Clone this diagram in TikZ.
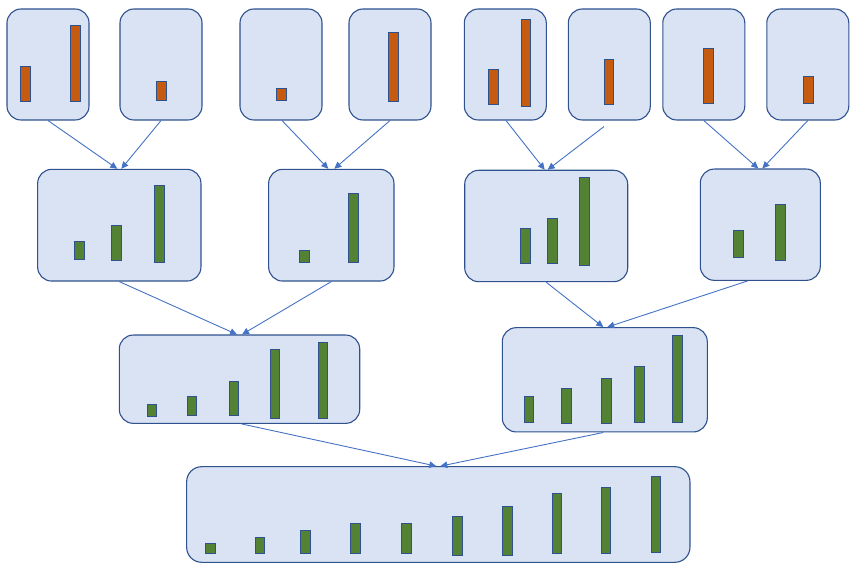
\documentclass[tikz,border=0pt]{standalone}
\usetikzlibrary{arrows.meta}
\definecolor{boxfill}{HTML}{DAE3F3}
\definecolor{boxline}{HTML}{2F528F}
\definecolor{orangebar}{HTML}{C55A11}
\definecolor{greenbar}{HTML}{548235}
\definecolor{arrowblue}{HTML}{4472C4}
\newcommand\orbar[4]{\draw[orbarstyle] (#1,#2) rectangle (#3,#4);}
\newcommand\grbar[4]{\draw[grbarstyle] (#1,#2) rectangle (#3,#4);}
\begin{document}
\begin{tikzpicture}[x=1pt,y=-1pt,
  panel/.style={draw=boxline, fill=boxfill, line width=1.1pt, rounded corners=14pt, inner sep=0pt},
  orbarstyle/.style={draw=boxline, fill=orangebar, line width=0.9pt},
  grbarstyle/.style={draw=boxline, fill=greenbar, line width=0.9pt},
  arr/.style={draw=arrowblue, line width=0.9pt, -{Triangle[length=7pt,width=6.5pt]}}]
\useasboundingbox (0,0) rectangle (855,569);

% top row
\node[panel, minimum width=82pt, minimum height=111pt] (t1) at (48,64.5) {};
\node[panel, minimum width=82pt, minimum height=111pt] (t2) at (161,64.5) {};
\node[panel, minimum width=82pt, minimum height=111pt] (t3) at (281,64.5) {};
\node[panel, minimum width=82pt, minimum height=111pt] (t4) at (390,64.5) {};
\node[panel, minimum width=82pt, minimum height=111pt] (t5) at (505.3,64.5) {};
\node[panel, minimum width=82pt, minimum height=111pt] (t6) at (609.3,64.5) {};
\node[panel, minimum width=82pt, minimum height=111pt] (t7) at (703.8,64.5) {};
\node[panel, minimum width=82pt, minimum height=111pt] (t8) at (807.8,64.5) {};

% second row
\node[panel, minimum width=163.3pt, minimum height=111.7pt] (m1) at (119.3,225.2) {};
\node[panel, minimum width=125.3pt, minimum height=111.7pt] (m2) at (331.3,225.2) {};
\node[panel, minimum width=163pt, minimum height=111.4pt] (m3) at (546.2,226) {};
\node[panel, minimum width=120pt, minimum height=111.3pt] (m4) at (760.3,224.7) {};

% third row
\node[panel, minimum width=240.4pt, minimum height=88.3pt] (l1) at (239.5,379.2) {};
\node[panel, minimum width=205pt, minimum height=104.3pt] (l2) at (604.8,379.8) {};

% bottom
\node[panel, minimum width=503.3pt, minimum height=95.6pt, rounded corners=15pt] (f) at (438.3,514.5) {};

% orange bars
\orbar{20}{66}{30}{101}
\orbar{70}{25}{80}{101}
\orbar{156}{81}{166}{100}
\orbar{276}{88.3}{286}{100.7}
\orbar{388}{32.3}{398}{101}
\orbar{488.3}{69.3}{498}{104.3}
\orbar{521}{19.3}{530.7}{106}
\orbar{604}{59}{613.7}{104.3}
\orbar{703.7}{48.3}{713.7}{103}
\orbar{803.3}{76.7}{813}{103}

% second row green bars
\grbar{74}{241.3}{84}{259.7}
\grbar{111.7}{225.7}{121.7}{260.7}
\grbar{154.3}{185.7}{164.3}{262.3}
\grbar{299.3}{250}{309}{262.3}
\grbar{348.3}{193}{358.3}{262.3}
\grbar{520.7}{228}{530.7}{263.3}
\grbar{547}{218}{557}{263.3}
\grbar{579}{177.7}{589.3}{265.3}
\grbar{733.7}{230.3}{743.7}{257}
\grbar{775}{204.7}{785}{260.3}

% third row green bars
\grbar{147.3}{404}{156.7}{416}
\grbar{187}{396.7}{196.7}{415}
\grbar{229.3}{381.3}{238.7}{415.7}
\grbar{270}{349.3}{279.7}{418.7}
\grbar{318}{342.3}{327.7}{418.7}
\grbar{524.3}{396}{533.7}{422}
\grbar{561.3}{388.7}{571}{423.3}
\grbar{601.7}{378}{611.3}{423}
\grbar{634.3}{366.3}{644}{422}
\grbar{672.7}{335}{682.7}{422.7}

% bottom green bars
\grbar{205}{543.3}{215}{553.7}
\grbar{255}{537.7}{264.7}{553.7}
\grbar{300.7}{530.3}{310.3}{553.7}
\grbar{350.3}{523}{360}{553.7}
\grbar{401.7}{523}{411.3}{553.7}
\grbar{452.7}{516}{462.7}{555.7}
\grbar{502.3}{506.7}{512.3}{555.7}
\grbar{552}{493}{561.7}{553.7}
\grbar{601}{487}{610.7}{553.7}
\grbar{651}{476}{660.7}{552.7}

% connectors
\draw[arr] (t1.south) -- ([xshift=-2pt]m1.north);
\draw[arr] (t2.south) -- ([xshift=2pt]m1.north);
\draw[arr] ([xshift=1pt]t3.south) -- ([xshift=-3pt]m2.north);
\draw[arr] (t4.south) -- ([xshift=3pt]m2.north);
\draw[arr] ([xshift=0.7pt]t5.south) -- ([xshift=-1.5pt]m3.north);
\draw[arr] ([xshift=-5.3pt,yshift=-6pt]t6.south) -- ([xshift=1.5pt]m3.north);
\draw[arr] (t7.south) -- ([xshift=-2pt]m4.north);
\draw[arr] (t8.south) -- ([xshift=2pt]m4.north);

\draw[arr] (m1.south) -- ([xshift=-2.5pt]l1.north);
\draw[arr] (m2.south) -- ([xshift=2.5pt]l1.north);
\draw[arr] (m3.south) -- ([xshift=-1.5pt]l2.north);
\draw[arr] ([xshift=-12.6pt]m4.south) -- ([xshift=2.5pt]l2.north);

\draw[arr] ([xshift=2pt]l1.south) -- ([xshift=-2pt]f.north);
\draw[arr] ([xshift=-1.5pt]l2.south) -- ([xshift=2pt]f.north);
\end{tikzpicture}
\end{document}
